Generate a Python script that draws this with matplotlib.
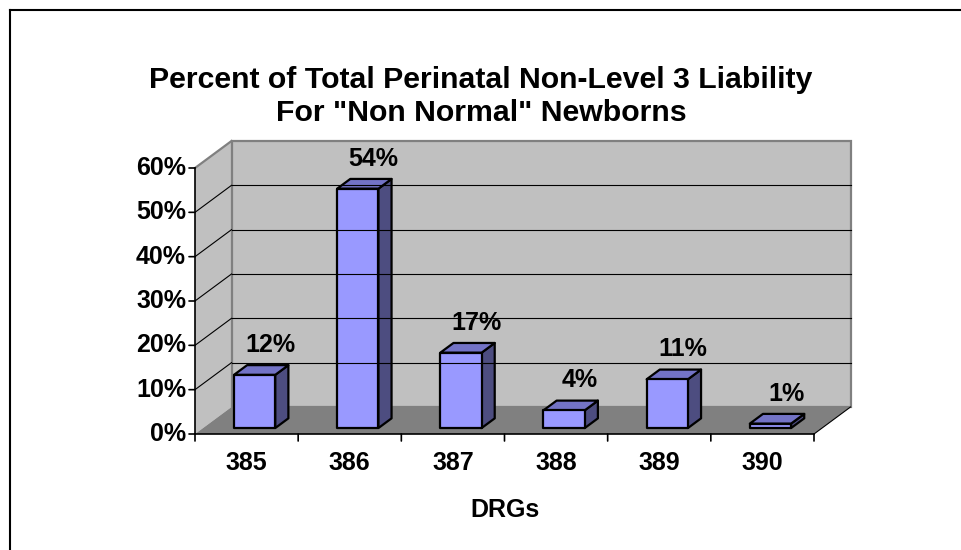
import matplotlib.pyplot as plt
from matplotlib.patches import Polygon
from matplotlib.lines import Line2D

# chart data
categories = ['385', '386', '387', '388', '389', '390']
shares = [0.12, 0.54, 0.17, 0.04, 0.11, 0.01]
y_ticks = [0.0, 0.1, 0.2, 0.3, 0.4, 0.5, 0.6]
y_tick_labels = ['0%', '10%', '20%', '30%', '40%', '50%', '60%']

title_lines = ['Percent of Total Perinatal Non-Level 3 Liability',
               'For "Non Normal" Newborns']
x_title = 'DRGs'

# colours (Excel 3-D column look)
wall_color = '#C0C0C0'
floor_color = '#808080'
edge_gray = '#808080'
bar_front = '#9999FF'
bar_top = '#7373C6'
bar_side = '#4D4D80'
font = 'Liberation Sans'
fs = 18

W, H = 961, 550
fig = plt.figure(figsize=(W / 100, H / 100), dpi=100, facecolor='white')

# axes = front plane of the 3-D box (pixels 195..814 wide, 434..168 high)
ax = fig.add_axes([195 / W, (H - 434) / H, 619 / W, 266 / H])
n = len(categories)
vmax = y_ticks[-1]
ax.set_xlim(0, n)
ax.set_ylim(0, vmax)
ax.axis('off')

# depth offset of the back wall, in data units
DX = 36.5 / (619 / n)
DY = 27 / (266 / vmax)


def proj(x, v, d):
    return (x + d * DX, v + d * DY)


def face(pts, color, **kw):
    ax.add_patch(Polygon([proj(*p) for p in pts], closed=True, facecolor=color,
                         clip_on=False, **kw))


def seg(p0, p1, **kw):
    a, b = proj(*p0), proj(*p1)
    ax.add_line(Line2D([a[0], b[0]], [a[1], b[1]], clip_on=False, **kw))


# walls and floor
face([(0, 0, 0), (0, 0, 1), (0, vmax, 1), (0, vmax, 0)], wall_color, edgecolor='none')
face([(0, 0, 1), (n, 0, 1), (n, vmax, 1), (0, vmax, 1)], wall_color,
     edgecolor=edge_gray, linewidth=1.6)
face([(0, 0, 0), (n, 0, 0), (n, 0, 1), (0, 0, 1)], floor_color, edgecolor='none')
seg((0, vmax, 0), (0, vmax, 1), color=edge_gray, linewidth=1.6)
seg((n, 0, 0), (n, 0, 1), color='black', linewidth=0.8)

# gridlines on back and side walls
for v in y_ticks[1:-1]:
    seg((0, v, 0), (0, v, 1), color='black', linewidth=0.8)
    seg((0, v, 1), (n, v, 1), color='black', linewidth=0.8)

# axis lines
ax.add_line(Line2D([0, 0], [0, vmax], color='black', linewidth=1.2, clip_on=False))
ax.add_line(Line2D([0, n], [0, 0], color='black', linewidth=1.2, clip_on=False))
for v, lab in zip(y_ticks, y_tick_labels):
    ax.annotate('', xy=(0, v), xytext=(-6, 0), textcoords='offset pixels',
                arrowprops=dict(arrowstyle='-', color='black', lw=1.2,
                                shrinkA=0, shrinkB=0), annotation_clip=False)
    ax.annotate(lab, xy=(0, v), xytext=(-9, 0), textcoords='offset pixels',
                ha='right', va='center', fontsize=fs, fontweight='bold',
                fontfamily=font, annotation_clip=False)
for i in range(n + 1):
    ax.annotate('', xy=(i, 0), xytext=(0, -7), textcoords='offset pixels',
                arrowprops=dict(arrowstyle='-', color='black', lw=1.2,
                                shrinkA=0, shrinkB=0), annotation_clip=False)

# bars
half_w = 0.2
d0, d1 = 0.22, 0.58
for i, (cat, v) in enumerate(zip(categories, shares)):
    xc = i + 0.5
    x0, x1 = xc - half_w, xc + half_w
    face([(x1, 0, d0), (x1, 0, d1), (x1, v, d1), (x1, v, d0)], bar_side,
         edgecolor='black', linewidth=1.6, joinstyle='round')
    face([(x0, v, d0), (x1, v, d0), (x1, v, d1), (x0, v, d1)], bar_top,
         edgecolor='black', linewidth=1.6, joinstyle='round')
    face([(x0, 0, d0), (x1, 0, d0), (x1, v, d0), (x0, v, d0)], bar_front,
         edgecolor='black', linewidth=1.6, joinstyle='round')
    ax.annotate(f'{v:.0%}', xy=proj(xc, v, (d0 + d1) / 2), xytext=(9, 25),
                textcoords='offset pixels', ha='center', va='center',
                fontsize=fs, fontweight='bold', fontfamily=font,
                annotation_clip=False)
    ax.annotate(cat, xy=(xc, 0), xytext=(0, -29), textcoords='offset pixels',
                ha='center', va='center', fontsize=fs, fontweight='bold',
                fontfamily=font, annotation_clip=False)

ax.annotate(x_title, xy=(n / 2, 0), xytext=(0, -76), textcoords='offset pixels',
            ha='center', va='center', fontsize=fs, fontweight='bold',
            fontfamily=font, annotation_clip=False)

for k, line in enumerate(title_lines):
    fig.text(481 / W, 1 - (80 + 33 * k) / H, line, ha='center', va='center',
             fontsize=21.8, fontweight='bold', fontfamily=font)

# chart frame (only the left and top edges are visible)
fig.add_artist(Line2D([9.5 / W, 9.5 / W], [0, 1 - 9.5 / H], color='black',
                      linewidth=1.5, transform=fig.transFigure))
fig.add_artist(Line2D([9.5 / W, 1], [1 - 9.5 / H, 1 - 9.5 / H], color='black',
                      linewidth=1.5, transform=fig.transFigure))

fig.savefig('out.png', dpi=100, facecolor='white')
